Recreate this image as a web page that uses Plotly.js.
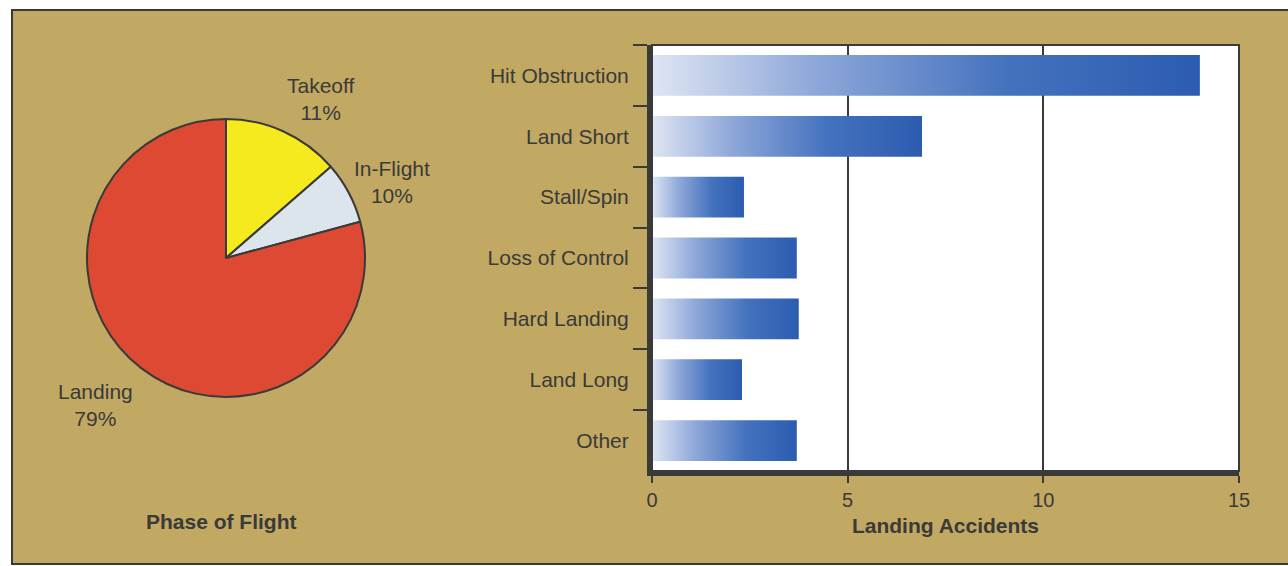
<!DOCTYPE html>
<html>
<head>
<meta charset="utf-8">
<script src="https://cdn.plot.ly/plotly-3.0.1.min.js"></script>
<style>
  html, body { margin: 0; padding: 0; background: #ffffff; width: 1288px; height: 566px; overflow: hidden; }
  #panel { position: absolute; left: 11px; top: 9px; width: 1280px; height: 552px; background: #C1A863; border: 2px solid #3a3a38; }
  #chart { position: absolute; left: 0; top: 0; width: 1288px; height: 566px; }
</style>
</head>
<body>
<div id="panel"></div>
<div id="chart"></div>
<script>
// ---- Data ----
const phases = ['Takeoff', 'In-Flight', 'Landing'];
const phaseSlices = [13.6, 7.2, 79.2];            // slice sizes as drawn
const phasePercentLabels = ['11%', '10%', '79%']; // printed percentages
const phaseColors = ['#F4EA1E', '#DCE4EC', '#DE4934'];

const accidentTypes = ['Hit Obstruction', 'Land Short', 'Stall/Spin', 'Loss of Control', 'Hard Landing', 'Land Long', 'Other'];
const accidentCounts = [14, 6.9, 2.35, 3.7, 3.75, 2.3, 3.7];
const xTickValues = [0, 5, 10, 15];

// label placement for the pie (paper pixel positions, layout only)
const phaseLabelPos = [[320, 99], [392, 182], [95, 405]];

const textColor = '#3a3a38';
const fontFamily = '"Liberation Sans", Arial, Helvetica, sans-serif';
const W = 1288, H = 566;

const pieTrace = {
  type: 'pie',
  labels: phases,
  values: phaseSlices,
  textinfo: 'none',
  sort: false,
  direction: 'clockwise',
  rotation: 0,
  marker: { colors: phaseColors, line: { color: textColor, width: 2 } },
  domain: { x: [87 / W, 365 / W], y: [1 - 397 / H, 1 - 119 / H] },
  hoverinfo: 'skip',
  showlegend: false
};

const barTrace = {
  type: 'bar',
  orientation: 'h',
  x: accidentCounts,
  y: accidentTypes,
  width: 0.67,
  marker: { color: '#2f5fb2', line: { width: 0 } },
  hoverinfo: 'skip',
  showlegend: false,
  xaxis: 'x',
  yaxis: 'y'
};

const pieAnnotations = phases.map(function (p, i) {
  return {
    text: p + '<br>' + phasePercentLabels[i],
    xref: 'paper', yref: 'paper',
    x: phaseLabelPos[i][0] / W, y: 1 - phaseLabelPos[i][1] / H,
    xanchor: 'center', yanchor: 'middle', align: 'center', showarrow: false,
    font: { family: fontFamily, size: 21, color: textColor }
  };
});

const layout = {
  width: W,
  height: H,
  margin: { l: 0, r: 0, t: 0, b: 0 },
  paper_bgcolor: 'rgba(0,0,0,0)',
  plot_bgcolor: '#ffffff',
  font: { family: fontFamily, color: textColor },
  xaxis: {
    domain: [652 / W, 1239 / W],
    range: [0, 15],
    tickvals: xTickValues,
    ticktext: xTickValues.map(String),
    showgrid: true,
    gridcolor: '#3a3a38',
    gridwidth: 2,
    zeroline: false,
    showline: true,
    linecolor: '#3a3a38',
    linewidth: 5,
    ticks: 'outside',
    ticklen: 7,
    tickwidth: 2,
    tickcolor: '#3a3a38',
    tickfont: { family: fontFamily, size: 20, color: textColor },
    title: { text: '<b>Landing Accidents</b>', font: { family: fontFamily, size: 21, color: textColor }, standoff: 10 },
    fixedrange: true
  },
  yaxis: {
    domain: [1 - 471 / H, 1 - 45 / H],
    type: 'category',
    autorange: 'reversed',
    tickson: 'boundaries',
    ticks: 'outside',
    ticklen: 14,
    tickwidth: 2,
    tickcolor: '#3a3a38',
    showgrid: false,
    zeroline: false,
    showline: true,
    linecolor: '#3a3a38',
    linewidth: 5,
    ticklabelstandoff: 14,
    tickfont: { family: fontFamily, size: 21, color: textColor },
    fixedrange: true
  },
  shapes: [
    { type: 'rect', xref: 'x domain', yref: 'y domain', x0: 0, x1: 1, y0: 0, y1: 1,
      line: { color: '#3a3a38', width: 2 }, fillcolor: 'rgba(0,0,0,0)', layer: 'above' }
  ],
  annotations: pieAnnotations.concat([
    { text: '<b>Phase of Flight</b>', xref: 'paper', yref: 'paper', x: 221 / W, y: 1 - 521 / H,
      xanchor: 'center', yanchor: 'middle', showarrow: false,
      font: { family: fontFamily, size: 21, color: textColor } }
  ])
};

Plotly.newPlot('chart', [pieTrace, barTrace], layout, { staticPlot: true, displayModeBar: false }).then(function (gd) {
  const svg = gd.querySelector('.main-svg');
  const ns = 'http://www.w3.org/2000/svg';
  let defs = svg.querySelector('defs');
  if (!defs) { defs = document.createElementNS(ns, 'defs'); svg.insertBefore(defs, svg.firstChild); }
  const grad = document.createElementNS(ns, 'linearGradient');
  grad.setAttribute('id', 'barGradient');
  grad.setAttribute('x1', '0'); grad.setAttribute('y1', '0');
  grad.setAttribute('x2', '1'); grad.setAttribute('y2', '0');
  [['0', '#dfe5f3'], ['0.3', '#8da7d9'], ['0.65', '#4472be'], ['1', '#2c5cb0']].forEach(function (s) {
    const st = document.createElementNS(ns, 'stop');
    st.setAttribute('offset', s[0]);
    st.setAttribute('stop-color', s[1]);
    grad.appendChild(st);
  });
  defs.appendChild(grad);
  gd.querySelectorAll('.barlayer .bars .point path').forEach(function (p) {
    p.style.fill = 'url(#barGradient)';
  });
});
</script>
</body>
</html>
